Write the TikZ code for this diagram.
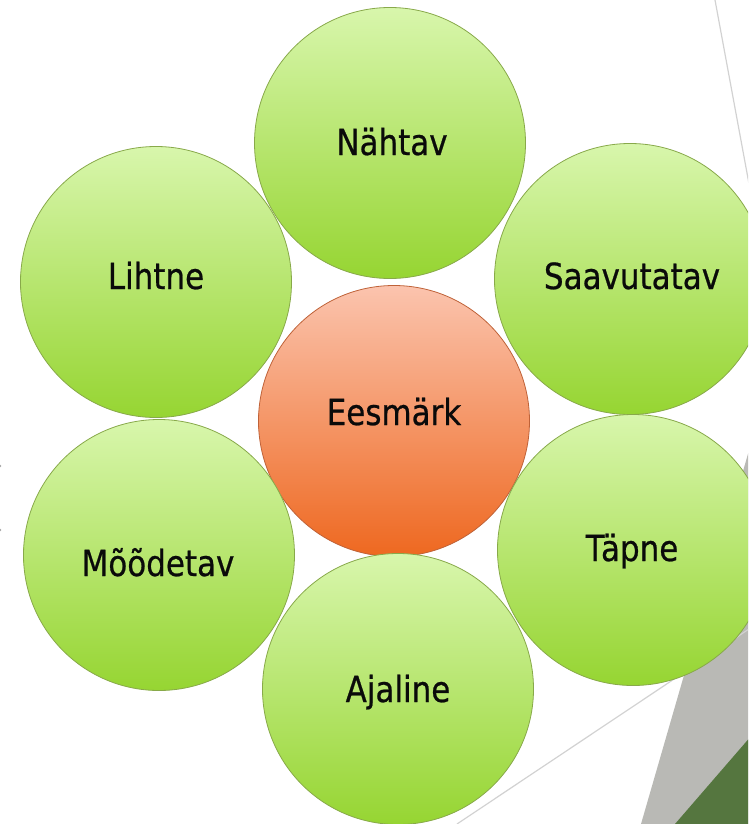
\documentclass[tikz,border=0pt]{standalone}
\usepackage{fontspec}
\newfontfamily\lblfont{DejaVu Sans}[FakeStretch=0.86,FakeBold=0.6]
\definecolor{gTop}{HTML}{D8F6AC}
\definecolor{gMid}{HTML}{BAF26C}
\definecolor{gBot}{HTML}{96D532}
\definecolor{gLine}{HTML}{88A94A}
\definecolor{oTop}{HTML}{FBC4AE}
\definecolor{oMid}{HTML}{F4916A}
\definecolor{oBot}{HTML}{EE6820}
\definecolor{oLine}{HTML}{BF6238}
\definecolor{bgGray}{HTML}{B9B9B5}
\definecolor{bgGreen}{HTML}{55763F}
\definecolor{thinGray}{HTML}{D2D2D2}
\definecolor{txt}{HTML}{0A0A0A}
\tikzset{
  leaf/.style={circle, minimum size=271pt, inner sep=0pt, draw=gLine, line width=0.8pt,
    top color=gTop, middle color=gMid, bottom color=gBot},
  core/.style={circle, minimum size=271pt, inner sep=0pt, draw=oLine, line width=0.8pt,
    top color=oTop, middle color=oMid, bottom color=oBot},
  lbl/.style={anchor=base, inner sep=0pt, text=txt, font=\lblfont\fontsize{36}{40}\selectfont},
  thin/.style={draw=thinGray, line width=1.2pt}
}
\begin{document}
\begin{tikzpicture}[x=1pt, y=-1pt]
\useasboundingbox (0,0) rectangle (748,824);
\clip (0,0) rectangle (748,824);
% background decoration
\fill[bgGray] (641,824) -- (752,440) -- (760,440) -- (760,830) -- (641,830) -- cycle;
\fill[bgGreen] (675,824) -- (752,735) -- (760,735) -- (760,830) -- (675,830) -- cycle;
\coordinate (l1a) at (715,0);
\coordinate (l1b) at (752,200);
\coordinate (l2a) at (457,824);
\coordinate (l2b) at (752,627);
\draw[thin] (l1a) -- (l1b);
\draw[thin] (l2a) -- (l2b);
\fill[gray!70] (0,466) circle (1.3);
\fill[gray!70] (0,530) circle (1.3);
% circles
\node[leaf] (nahtav) at (390,143) {};
\node[leaf] (lihtne) at (156,282) {};
\node[leaf] (saav) at (630,279) {};
\node[core] (eesmark) at (394,421) {};
\node[leaf] (tapne) at (633,550) {};
\node[leaf] (mood) at (159,555) {};
\node[leaf] (ajaline) at (398,689) {};
% labels
\node[lbl] (tNahtav) at (392,155) {Nähtav};
\node[lbl] (tLihtne) at (156,289) {Lihtne};
\node[lbl] (tSaav) at (632,289) {Saavutatav};
\node[lbl] (tEes) at (394,425) {Eesmärk};
\node[lbl] (tTapne) at (632,561) {Täpne};
\node[lbl] (tMood) at (158,576) {Mõõdetav};
\node[lbl] (tAja) at (398,702) {Ajaline};
\end{tikzpicture}
\end{document}
